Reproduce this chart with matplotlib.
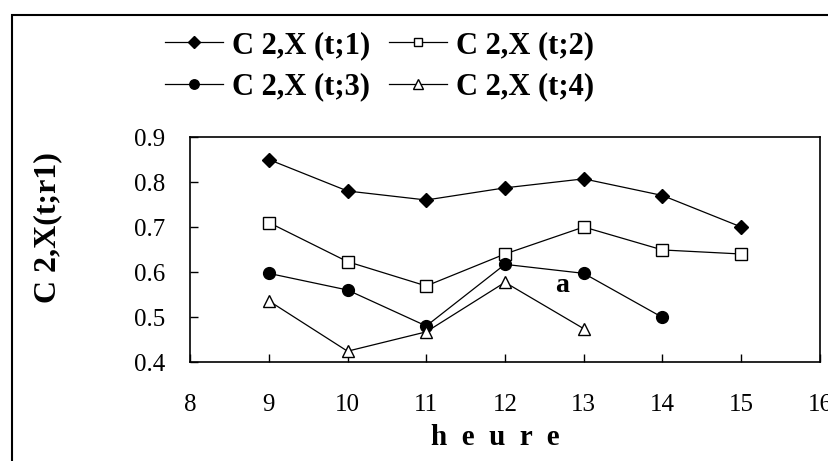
import matplotlib
matplotlib.use("Agg")
import matplotlib.pyplot as plt
from matplotlib.patches import Rectangle

hours = [9, 10, 11, 12, 13, 14, 15]
s1 = [0.85, 0.78, 0.76, 0.787, 0.807, 0.77, 0.70]
s2 = [0.71, 0.623, 0.569, 0.64, 0.70, 0.649, 0.64]
s3 = [0.597, 0.56, 0.48, 0.617, 0.597, 0.499]
s4 = [0.536, 0.424, 0.467, 0.577, 0.474]
labels = ["C 2,X (t;1)", "C 2,X (t;2)", "C 2,X (t;3)", "C 2,X (t;4)"]
xticks = [8, 9, 10, 11, 12, 13, 14, 15, 16]
yticks = [0.4, 0.5, 0.6, 0.7, 0.8, 0.9]

plt.rcParams['font.family'] = ['Liberation Serif', 'DejaVu Serif']

fig = plt.figure(figsize=(8.29, 4.61), dpi=100)
fig.patches.append(Rectangle((12/829, -0.1), 1.2, 1 - 15/461 + 0.1,
                             transform=fig.transFigure, fill=False,
                             edgecolor='black', linewidth=1.5))
ax = fig.add_axes([190/829, 1 - 362/461, 630/829, 225/461])

h1, = ax.plot(hours, s1, color='black', lw=0.9, marker='D', ms=7.5,
              mfc='black', mec='black', label=labels[0])
h2, = ax.plot(hours, s2, color='black', lw=0.9, marker='s', ms=8,
              mfc='white', mec='black', mew=1.0, label=labels[1])
h3, = ax.plot(hours[:len(s3)], s3, color='black', lw=0.9, marker='o', ms=8.5,
              mfc='black', mec='black', label=labels[2])
h4, = ax.plot(hours[:len(s4)], s4, color='black', lw=0.9, marker='^', ms=8.5,
              mfc='white', mec='black', mew=1.0, label=labels[3])

ax.set_xlim(8, 16)
ax.set_ylim(0.4, 0.9)
ax.set_xticks(xticks)
ax.set_yticks(yticks)
ax.set_yticklabels(["%.1f" % v for v in yticks])
ax.tick_params(direction='in', length=6, width=1, labelsize=18)
ax.tick_params(axis='y', pad=18)
ax.tick_params(axis='x', pad=23)
for sp in ax.spines.values():
    sp.set_linewidth(1.2)

ax.text(12.72, 0.57, "a", fontsize=20, fontweight='bold', ha='center', va='center')

fig.text(495/829, 1 - 437/461, "h  e  u  r  e", fontsize=21, fontweight='bold',
         ha='center', va='center')
fig.text(48/829, 1 - 228/461, "C 2,X(t;r1)", fontsize=23, fontweight='bold',
         ha='center', va='center', rotation=90)

fig.legend(handles=[h1, h3, h2, h4], labels=[labels[0], labels[2], labels[1], labels[3]],
           ncol=2, loc='upper left', bbox_to_anchor=(165/829, 1 - 31/461),
           frameon=False, prop={'weight': 'bold', 'size': 22},
           handlelength=1.9, handletextpad=0.3, columnspacing=0.6,
           labelspacing=0.4, borderaxespad=0, borderpad=0, markerscale=0.8)

fig.savefig("out.png", dpi=100)
